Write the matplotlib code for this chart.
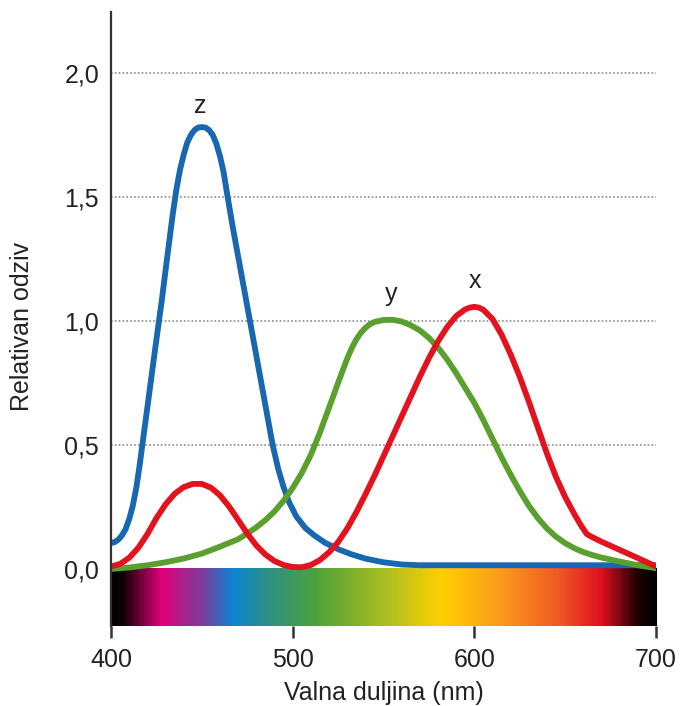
import numpy as np
import matplotlib
matplotlib.use('Agg')
import matplotlib.pyplot as plt
from matplotlib.colors import LinearSegmentedColormap

plt.rcParams['font.family'] = ['Liberation Sans', 'DejaVu Sans']

# colour matching functions
z_nm = [400, 402, 404, 406, 408, 410, 412, 414, 416, 418, 420, 424, 428, 431, 434, 436, 438,
        440, 442, 444, 446, 448, 450, 452, 454, 456, 458, 460, 462, 464, 467, 470, 475, 480,
        485, 489, 492, 495, 498, 502, 507, 512, 518, 525, 532, 540, 550, 560, 570, 700]
z_val = [0.105, 0.108, 0.118, 0.135, 0.16, 0.2, 0.255, 0.33, 0.43, 0.54, 0.65, 0.87, 1.085,
         1.26, 1.43, 1.53, 1.61, 1.67, 1.72, 1.75, 1.77, 1.78, 1.782, 1.78, 1.77, 1.75, 1.715,
         1.665, 1.6, 1.51, 1.38, 1.26, 1.06, 0.86, 0.66, 0.5, 0.405, 0.33, 0.27, 0.212,
         0.165, 0.135, 0.105, 0.08, 0.06, 0.042, 0.027, 0.018, 0.015, 0.015]

x_nm = [400, 405, 410, 415, 420, 425, 430, 435, 440, 445, 450, 455, 460, 465, 470, 475, 480,
        485, 490, 495, 500, 505, 510, 515, 520, 525, 530, 535, 540, 545, 550, 555, 560, 565,
        570, 575, 580, 585, 590, 595, 597.5, 600, 602.5, 605, 610, 615, 620, 625, 630, 635,
        640, 645, 650, 655, 659, 662, 665, 670, 680, 690, 700]
x_val = [0.01, 0.02, 0.045, 0.085, 0.14, 0.205, 0.26, 0.303, 0.33, 0.343, 0.343, 0.328,
         0.297, 0.252, 0.198, 0.143, 0.095, 0.058, 0.032, 0.016, 0.008, 0.007, 0.016, 0.036,
         0.067, 0.108, 0.163, 0.228, 0.3, 0.375, 0.455, 0.535, 0.615, 0.695, 0.775, 0.85,
         0.918, 0.975, 1.02, 1.047, 1.054, 1.057, 1.054, 1.045, 1.008, 0.945, 0.865, 0.775,
         0.675, 0.57, 0.465, 0.37, 0.29, 0.222, 0.172, 0.14, 0.128, 0.11, 0.077, 0.044, 0.01]

y_nm = [400, 410, 420, 430, 440, 450, 460, 470, 475, 480, 485, 490, 495, 500, 505, 510, 515,
        520, 525, 527.5, 530, 532.5, 535, 537.5, 540, 542.5, 545, 550, 555, 560, 565, 570,
        575, 580, 585, 590, 595, 600, 605, 610, 615, 620, 625, 630, 635, 640, 645, 650, 655,
        660, 665, 670, 680, 690, 700]
y_val = [0.0, 0.006, 0.015, 0.027, 0.042, 0.062, 0.09, 0.12, 0.143, 0.168, 0.197, 0.232,
         0.275, 0.326, 0.387, 0.46, 0.55, 0.65, 0.75, 0.8, 0.848, 0.89, 0.925, 0.952, 0.972,
         0.987, 0.996, 1.004, 1.005, 0.998, 0.983, 0.962, 0.932, 0.893, 0.845, 0.79, 0.73,
         0.67, 0.6, 0.525, 0.45, 0.38, 0.315, 0.255, 0.205, 0.163, 0.13, 0.104, 0.084, 0.068,
         0.056, 0.046, 0.03, 0.015, 0.003]

# visible spectrum strip under the zero line
spec_nm = [400, 406, 427, 450, 467, 484, 513, 555, 582, 615, 646, 670, 690, 700]
spec_colors = ['#000000', '#140006', '#e0007a', '#7a3d9a', '#0b84d4', '#2a8f8a', '#4ea23a',
               '#b6c21c', '#ffd000', '#fb9a1c', '#ef5a24', '#e0101e', '#200000', '#000000']

yticks = [0.0, 0.5, 1.0, 1.5, 2.0]
ytick_labels = ['0,0', '0,5', '1,0', '1,5', '2,0']
xticks = [400, 500, 600, 700]

fig = plt.figure(figsize=(6.8, 7.06), dpi=100)
ax = fig.add_axes([0.1632, 0.1133, 0.8015, 0.8697])

pos = [(n - 400) / 300 for n in spec_nm]
cmap = LinearSegmentedColormap.from_list('spec', list(zip(pos, spec_colors)))
grad = np.linspace(0, 1, 600).reshape(1, -1)
ax.imshow(grad, cmap=cmap, aspect='auto', extent=(400, 700, -0.23, 0), zorder=1)

for yv in yticks[1:]:
    ax.axhline(yv, color='#8a8a8a', lw=1.2, ls=(0, (1, 1.3)), zorder=0.5)

lw = 4.2
style = dict(lw=lw, solid_capstyle='round', solid_joinstyle='round')
ax.plot(z_nm, z_val, color='#1767b1', zorder=3, **style)
ax.plot(y_nm, y_val, color='#5aa02e', zorder=3, **style)
ax.plot(x_nm, x_val, color='#e2131f', zorder=4, **style)

ax.text(449, 1.84, 'z', ha='center', va='baseline', fontsize=18, color='#222222')
ax.text(554, 1.081, 'y', ha='center', va='baseline', fontsize=18, color='#222222')
ax.text(600.3, 1.132, 'x', ha='center', va='baseline', fontsize=18, color='#222222')

ax.set_xlim(400, 700)
ax.set_ylim(-0.23, 2.246)
ax.set_yticks(yticks)
ax.set_yticklabels(ytick_labels)
ax.set_xticks(xticks)
ax.tick_params(axis='y', length=0, pad=8.5, labelsize=18, labelcolor='#222222')
ax.tick_params(axis='x', length=8.6, width=1.8, pad=7, labelsize=18, labelcolor='#222222', color='#333333')

for s in ['top', 'right', 'bottom']:
    ax.spines[s].set_visible(False)
ax.spines['left'].set_color('#333333')
ax.spines['left'].set_linewidth(1.6)
ax.spines['left'].set_zorder(5)

fig.text(22 / 680, 1 - 326 / 706, 'Relativan odziv', rotation=90, ha='center', va='center',
         fontsize=18, color='#222222')
fig.text(384 / 680, 1 - 700 / 706, 'Valna duljina (nm)', ha='center', va='baseline',
         fontsize=18, color='#222222')

fig.savefig('out.png', dpi=100)
